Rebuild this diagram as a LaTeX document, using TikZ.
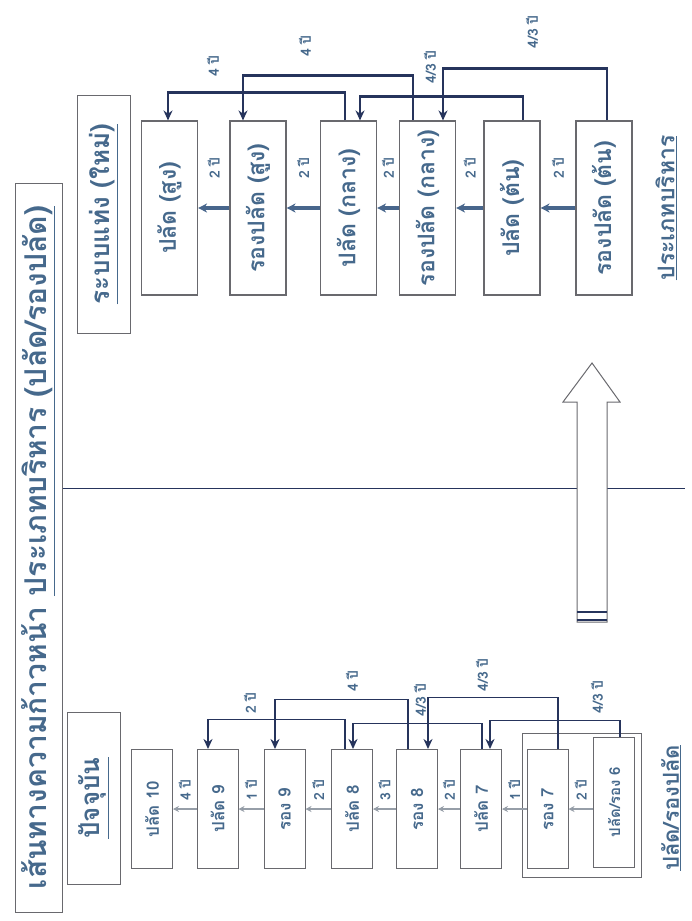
\documentclass[tikz,border=0pt]{standalone}
\usepackage{fontspec}
\setmainfont[Script=Thai]{Loma}
\usepackage{tikz}
\usetikzlibrary{positioning}
\usetikzlibrary{arrows.meta}
\definecolor{ink}{RGB}{70,105,140}
\definecolor{navy}{RGB}{38,52,92}
\definecolor{steel}{RGB}{72,102,140}
\definecolor{frame}{RGB}{105,105,110}
\definecolor{pale}{RGB}{150,158,168}
\newcommand{\vtext}[1]{\rotatebox{90}{#1}}
\tikzset{
rank/.style={ % boxes of the new scheme
draw=frame, line width=1.1pt,
minimum width=56pt, minimum height=174pt,
inner sep=0pt, text=ink,
font=\bfseries\fontsize{23}{23}\selectfont},
post/.style={ % boxes of the present scheme
draw=frame, line width=1pt,
minimum width=41pt, minimum height=119pt,
inner sep=0pt, text=ink,
font=\bfseries\fontsize{17}{17}\selectfont},
tag/.style={ % heading boxes
draw=frame, line width=1pt, inner sep=0pt, text=ink,
font=\bfseries\fontsize{26}{26}\selectfont},
note/.style={ % underlined captions
inner sep=0pt, text=ink,
font=\bfseries\fontsize{23}{23}\selectfont},
yrs/.style={ % year labels
rotate=90, inner sep=1pt, text=ink,
font=\bfseries\fontsize{14}{14}\selectfont},
climb/.style={ % step arrows, new scheme
draw=steel, line width=3.2pt,
-{Stealth[length=9pt,width=9pt]}},
drift/.style={ % step arrows, present scheme
draw=pale, line width=1.2pt,
-{Stealth[length=6pt,width=6pt,fill=navy]}},
jump/.style={ % skip connectors
draw=navy, line width=2.2pt,
-{Stealth[length=10pt,width=9pt]}}
}

\begin{document}
\begin{tikzpicture}[x=1pt, y=-1pt]
\useasboundingbox (0,0) rectangle (691,921);
% headings
\node[tag, minimum width=47pt, minimum height=729pt, font=\bfseries\fontsize{30}{30}\selectfont] (ttl) at (38.5,547.5)
{\vtext{เส้นทางความก้าวหน้า \underline{ประเภทบริหาร (ปลัด/รองปลัด)}}};
\node[tag, minimum width=53pt, minimum height=238pt] (new) at (103.5,214) {\vtext{\underline{ระบบแท่ง (ใหม่)}}};
\node[tag, minimum width=53pt, minimum height=172pt] (now) at (93.5,798) {\vtext{\underline{ปัจจุบัน}}};
\node[note] (kind) at (666,208) {\vtext{\underline{ประเภทบริหาร}}};
\node[note, font=\bfseries\fontsize{22}{22}\selectfont] (grade) at (671,808) {\vtext{\underline{ปลัด/รองปลัด}}};

% divider and big arrow
\coordinate (rim) at (685,488);
\draw[navy, line width=1pt] (ttl.east |- rim) -- (rim);
\draw[frame, fill=white, line width=1pt] (577,622) -- (577,402) -- (563,402) -- (592,363)
-- (620,402) -- (607,402) -- (607,622) -- cycle;
\draw[navy, line width=1.5pt] (577,612) -- (607,612) (577,620) -- (607,620);

% new scheme
\node[rank] (u1) at (169.5,208) {\vtext{ปลัด (สูง)}};
\node[rank] (u2) at (258,208) {\vtext{รองปลัด (สูง)}};
\node[rank] (u3) at (348.5,208) {\vtext{ปลัด (กลาง)}};
\node[rank] (u4) at (427.5,208) {\vtext{รองปลัด (กลาง)}};
\node[rank] (u5) at (512,208) {\vtext{ปลัด (ต้น)}};
\node[rank] (u6) at (604,208) {\vtext{รองปลัด (ต้น)}};

\draw[climb] (u2.west) -- node[yshift=40pt, yrs] (a21) {2 ปี} (u1.east);
\draw[climb] (u3.west) -- node[yshift=40pt, yrs] (a32) {2 ปี} (u2.east);
\draw[climb] (u4.west) -- node[yshift=40pt, yrs] (a43) {2 ปี} (u3.east);
\draw[climb] (u5.west) -- node[yshift=40pt, yrs] (a54) {2 ปี} (u4.east);
\draw[climb] (u6.west) -- node[yshift=40pt, yrs] (a65) {2 ปี} (u5.east);

\draw[jump] ([xshift=-3.5pt]u3.north) -- ++(0,-28) -| ([xshift=-1.5pt]u1.north);
\draw[jump] ([xshift=-14.5pt]u4.north) -- ++(0,-45) -| ([xshift=-15pt]u2.north);
\draw[jump] ([xshift=11pt]u5.north) -- ++(0,-24) -| ([xshift=11.5pt]u3.north);
\draw[jump] ([xshift=3pt]u6.north) -- ++(0,-52) -| ([xshift=15.5pt]u4.north);
\node[yrs] (b31) at (213,66) {4 ปี};
\node[yrs] (b42) at (305,46) {4 ปี};
\node[yrs] (b53) at (430,67) {4/3 ปี};
\node[yrs] (b64) at (532,32) {4/3 ปี};

% present scheme
\draw[frame, line width=1pt] (522,733) rectangle (641,877);
\node[post] (p10) at (152,809) {\vtext{ปลัด 10}};
\node[post] (p9) at (217.5,809) {\vtext{ปลัด 9}};
\node[post] (r9) at (284.5,809) {\vtext{รอง 9}};
\node[post] (p8) at (352,809) {\vtext{ปลัด 8}};
\node[post] (r8) at (417,809) {\vtext{รอง 8}};
\node[post] (p7) at (481,809) {\vtext{ปลัด 7}};
\node[post] (r7) at (547.5,809) {\vtext{รอง 7}};
\node[post, minimum height=130pt, font=\bfseries\fontsize{15}{15}\selectfont] (p6) at (614,802) {\vtext{ปลัด/รอง 6}};

\draw[drift] (p9.west) -- node[yshift=19pt, yrs] (c9) {4 ปี} (p10.east);
\draw[drift] (r9.west) -- node[yshift=19pt, yrs] (c8) {1 ปี} (p9.east);
\draw[drift] (p8.west) -- node[yshift=19pt, yrs] (c7) {2 ปี} (r9.east);
\draw[drift] (r8.west) -- node[yshift=19pt, yrs] (c6) {3 ปี} (p8.east);
\draw[drift] (p7.west) -- node[yshift=19pt, yrs] (c5) {2 ปี} (r8.east);
\draw[drift] (r7.west) -- node[yshift=19pt, yrs] (c4) {1 ปี} (p7.east);
\draw[drift] (p6.west |- r7.east) -- node[yshift=19pt, yrs] (c3) {2 ปี} (r7.east);

\draw[jump, line width=1.8pt] ([xshift=-7pt]p8.north) -- ++(0,-29.5) -| ([xshift=-9.5pt]p9.north);
\draw[jump, line width=1.8pt] ([xshift=-9pt]r8.north) -- ++(0,-49.5) -| ([xshift=-9.5pt]r9.north);
\draw[jump, line width=1.8pt] ([xshift=1pt]p7.north) -- ++(0,-25.5) -| ([xshift=1pt]p8.north);
\draw[jump, line width=1.8pt] ([xshift=10.5pt]r7.north) -- ++(0,-51.5) -| ([xshift=11pt]r8.north);
\draw[jump, line width=1.8pt] ([xshift=6pt]p6.north) -- ++(0,-16) -| ([xshift=9pt]p7.north);
\node[yrs] (d89) at (250,703) {2 ปี};
\node[yrs] (d99) at (352,681) {4 ปี};
\node[yrs] (d78) at (420,700) {4/3 ปี};
\node[yrs] (d88) at (482,675) {4/3 ปี};
\node[yrs] (d67) at (597,697) {4/3 ปี};
\end{tikzpicture}
\end{document}
